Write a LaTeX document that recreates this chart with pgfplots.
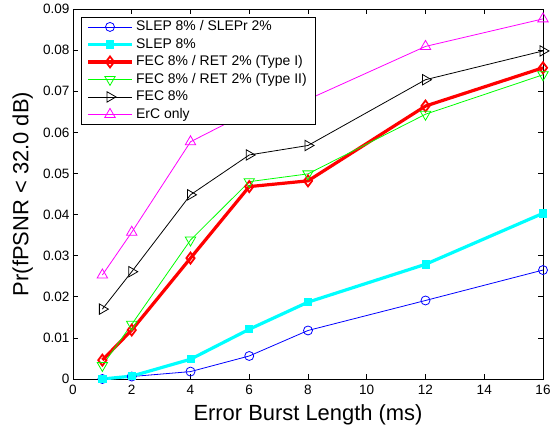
\documentclass[border=0pt]{standalone}
\usepackage{fontspec}
\setmainfont{Liberation Sans}
\usepackage{pgfplots}
\pgfplotsset{compat=1.18}
\definecolor{mblue}{rgb}{0,0,1}
\definecolor{mcyan}{rgb}{0,1,1}
\definecolor{mred}{rgb}{1,0,0}
\definecolor{mgreen}{rgb}{0,1,0}
\definecolor{mmag}{rgb}{1,0,1}
\begin{document}
\begin{tikzpicture}
\useasboundingbox (-73bp,-52bp) rectangle (477bp,379bp);
\begin{axis}[
  at={(0,0)}, anchor=south west,
  scale only axis,
  width=470bp, height=370bp,
  xmin=0, xmax=16, ymin=0, ymax=0.09,
  xtick={0,2,4,6,8,10,12,14,16},
  ytick={0,0.01,0.02,0.03,0.04,0.05,0.06,0.07,0.08,0.09},
  yticklabels={0,0.01,0.02,0.03,0.04,0.05,0.06,0.07,0.08,0.09},
  scaled y ticks=false,
  /pgf/number format/assume math mode=true,
  tick align=inside,
  major tick length=5bp,
  tick style={black, line width=0.7pt},
  axis line style={black, line width=0.9pt},
  ticklabel style={font=\fontsize{13.6}{15}\selectfont},
  xticklabel style={yshift=-3bp},
  xlabel={Error Burst Length (ms)},
  ylabel={Pr(fPSNR < 32.0 dB)},
  label style={font=\fontsize{22}{24}\selectfont},
  xlabel style={at={(axis description cs:0.5,-0.1127)}, anchor=base, inner sep=0pt},
  ylabel style={at={(axis description cs:-0.0951,0.5)}, anchor=base, inner sep=0pt},
  legend style={at={(0.0164,0.979)}, anchor=north west,
    font=\fontsize{14}{16}\selectfont,
    nodes={font=\fontsize{14}{16}\selectfont, inner xsep=2.8bp, inner ysep=2bp, text height=10.5bp, text depth=3bp},
    draw=black, fill=white, line width=0.8pt, inner xsep=5.5bp, inner ysep=1bp, row sep=0pt, cells={anchor=west}},
  every axis plot/.append style={
    legend image code/.code={\draw[mark repeat=2,mark phase=2,#1] plot coordinates {(0bp,0bp) (21.8bp,0bp) (43.6bp,0bp)};}},
]
\addplot[mblue, line width=0.8pt, mark=o, mark size=4.5bp, mark options={line width=0.8pt}]
  coordinates {(1,0) (2,0.0006) (4,0.0018) (6,0.0056) (8,0.0118) (12,0.0191) (16,0.0265)};
\addlegendentry{SLEP 8\% / SLEPr 2\%}
\addplot[mcyan, line width=3.2pt, mark=square*, mark size=3.6bp, mark options={fill=mcyan, draw=mcyan, line width=0.8pt}]
  coordinates {(1,0) (2,0.0007) (4,0.0048) (6,0.0121) (8,0.0187) (12,0.0279) (16,0.0403)};
\addlegendentry{SLEP 8\%}
\addplot[mred, line width=3.2pt, mark=diamond, mark size=5.5bp, mark options={fill=mred!35, draw=mred, line width=1.8pt}]
  coordinates {(1,0.0046) (2,0.0119) (4,0.0294) (6,0.0468) (8,0.0482) (12,0.0664) (16,0.0757)};
\addlegendentry{FEC 8\% / RET 2\% (Type I)}
\addplot[mgreen, line width=0.8pt, mark=triangle, mark size=6bp, mark options={rotate=180, line width=0.8pt}]
  coordinates {(1,0.0033) (2,0.0133) (4,0.0338) (6,0.0480) (8,0.0499) (12,0.0644) (16,0.0740)};
\addlegendentry{FEC 8\% / RET 2\% (Type II)}
\addplot[black, line width=0.8pt, mark=triangle, mark size=6bp, mark options={rotate=-90, line width=0.8pt}]
  coordinates {(1,0.0170) (2,0.0261) (4,0.0448) (6,0.0545) (8,0.0568) (12,0.0728) (16,0.0798)};
\addlegendentry{FEC 8\%}
\addplot[mmag, line width=0.8pt, mark=triangle, mark size=6bp, mark options={line width=0.8pt}]
  coordinates {(1,0.0253) (2,0.0357) (4,0.0577) (6,0.0650) (8,0.0680) (12,0.0809) (16,0.0876)};
\addlegendentry{ErC only}
\end{axis}
\end{tikzpicture}
\end{document}
